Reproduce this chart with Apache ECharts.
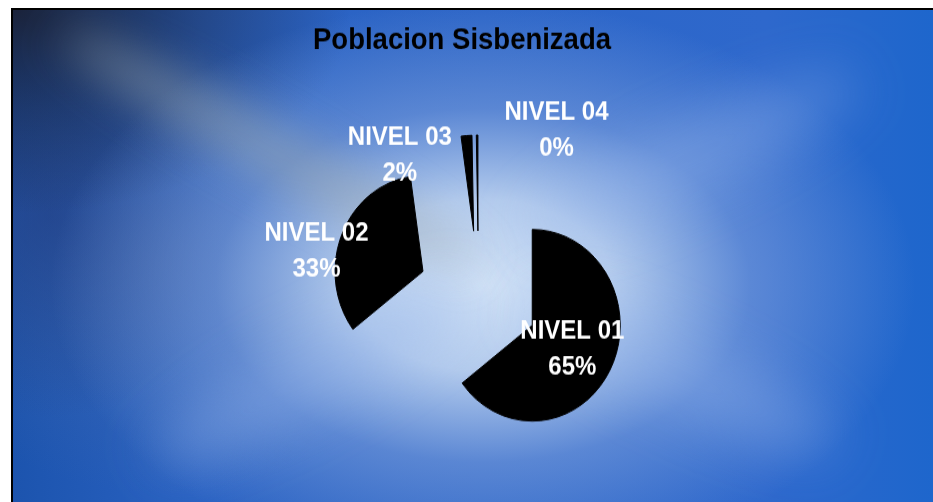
<!DOCTYPE html>
<html>
<head>
<meta charset="utf-8">
<script src="https://cdn.jsdelivr.net/npm/echarts@6/dist/echarts.min.js"></script>
<style>
  html, body { margin: 0; padding: 0; background: #ffffff; width: 933px; height: 502px; overflow: hidden; }
  #bg {
    position: absolute; left: 11px; top: 8px; width: 940px; height: 510px;
    border-top: 2px solid #000; border-left: 2px solid #000;
    overflow: hidden;
    background:
      radial-gradient(ellipse 46% 56% at 50% 54%, rgba(208,225,246,1) 0%, rgba(190,211,240,0.92) 30%, rgba(128,162,222,0.55) 62%, rgba(40,100,200,0) 100%),
      radial-gradient(ellipse 36% 40% at 0% 0%, rgba(26,32,52,0.95) 0%, rgba(26,32,52,0.45) 50%, rgba(26,32,52,0) 100%),
      radial-gradient(ellipse 22% 40% at 4% 40%, rgba(30,55,120,0.55) 0%, rgba(30,55,120,0) 100%),
      radial-gradient(ellipse 30% 45% at 16% 50%, rgba(95,115,160,0.35) 0%, rgba(95,115,160,0) 100%),
      linear-gradient(90deg, #1c54ae 0%, #2a62c2 20%, #2e68cc 80%, #1c66cc 100%);
  }
  .streak {
    position: absolute; left: 50px; top: 0px; width: 470px; height: 50px;
    background: rgba(160,170,172,0.5);
    transform: rotate(29deg); transform-origin: 0 50%;
    filter: blur(22px); border-radius: 50%;
  }
  .ray {
    position: absolute; height: 70px; border-radius: 50%;
    background: rgba(150,180,235,0.35); filter: blur(26px);
  }
  #chart {
    position: absolute; left: 0; top: 0; width: 933px; height: 461px;
    transform: scaleY(1.0889); transform-origin: 0 0;
  }
</style>
</head>
<body>
<div id="bg">
  <div class="streak"></div>
  <div class="ray" style="left:120px; top:330px; width:360px; transform: rotate(-28deg);"></div>
  <div class="ray" style="left:500px; top:110px; width:360px; transform: rotate(-25deg);"></div>
  <div class="ray" style="left:500px; top:330px; width:340px; transform: rotate(25deg);"></div>
</div>
<div id="chart"></div>
<script>
// ---- data ----
const titleText = 'Poblacion Sisbenizada';
const categories = ['NIVEL 01', 'NIVEL 02', 'NIVEL 03', 'NIVEL 04'];
const values = [65, 33.2, 2, 0.3];

// ---- label placement (styling, not data) ----
const labelShift = [[-2, 1], [-63, -1], [-70, -22], [79, -45]];

const chart = echarts.init(document.getElementById('chart'), null, { renderer: 'canvas' });

const seriesData = categories.map((name, i) => ({
  name: name,
  value: values[i],
  selected: true
}));

chart.setOption({
  animation: false,
  backgroundColor: 'transparent',
  title: {
    text: titleText,
    left: 457,
    textAlign: 'center',
    top: 18,
    textStyle: {
      fontFamily: 'Liberation Sans, Arial, sans-serif',
      fontWeight: 'bold',
      fontSize: 27.5,
      color: '#000'
    }
  },
  series: [{
    type: 'pie',
    center: [478.5, 272],
    radius: 88,
    startAngle: 90,
    clockwise: true,
    selectedMode: 'multiple',
    selectedOffset: 60,
    avoidLabelOverlap: false,
    percentPrecision: 0,
    emphasis: { disabled: true },
    select: { itemStyle: { color: '#000', borderColor: '#000', borderWidth: 1 } },
    itemStyle: { color: '#000', borderColor: '#000', borderWidth: 1 },
    label: {
      show: true,
      position: 'inside',
      formatter: '{b}\n{d}%',
      color: '#fff',
      fontFamily: 'Liberation Sans, Arial, sans-serif',
      fontWeight: 'bold',
      fontSize: 24,
      lineHeight: 33,
      align: 'center',
      textBorderWidth: 0
    },
    labelLayout: function (params) {
      const s = labelShift[params.dataIndex];
      return { dx: s[0], dy: s[1], hideOverlap: false, moveOverlap: null };
    },
    labelLine: { show: false },
    data: seriesData
  }]
});
</script>
</body>
</html>
